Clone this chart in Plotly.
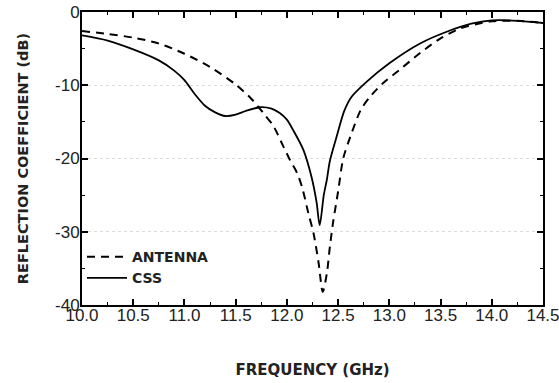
import plotly.graph_objects as go

# Dashed curve: ANTENNA
antenna_freq = [10.0, 10.25, 10.5, 10.75, 11.0, 11.25, 11.5, 11.65, 11.77, 11.87, 11.95,
                12.03, 12.1, 12.15, 12.21, 12.26, 12.31, 12.35, 12.39, 12.42, 12.45,
                12.5, 12.55, 12.62, 12.72, 12.81, 12.94, 13.1, 13.3, 13.5, 13.7,
                13.9, 14.0, 14.25, 14.5]
antenna_db = [-2.6, -3.0, -3.5, -4.3, -5.7, -7.5, -9.9, -11.8, -13.8, -15.6, -17.9,
              -20.2, -22.0, -24.0, -27.5, -30.2, -34.3, -38.2, -35.7, -32.0, -28.8,
              -24.5, -20.0, -17.0, -13.4, -11.6, -9.7, -7.9, -5.6, -3.6, -2.2,
              -1.5, -1.25, -1.2, -1.5]

# Solid curve: CSS
css_freq = [10.0, 10.25, 10.5, 10.75, 10.9, 11.0, 11.1, 11.2, 11.3, 11.4, 11.5, 11.6,
            11.74, 11.85, 11.93, 12.0, 12.06, 12.16, 12.24, 12.29, 12.32, 12.36,
            12.39, 12.42, 12.49, 12.56, 12.63, 12.78, 13.0, 13.3, 13.56, 13.8,
            14.0, 14.25, 14.5]
css_db = [-3.2, -3.9, -5.1, -6.6, -8.0, -9.3, -11.2, -12.8, -13.7, -14.2, -14.0, -13.5,
          -13.0, -13.2, -13.8, -14.7, -16.1, -18.8, -22.5, -26.0, -29.1, -25.0,
          -22.9, -20.3, -16.8, -13.5, -11.6, -9.5, -7.0, -4.3, -2.7, -1.6,
          -1.15, -1.2, -1.5]

x_ticks = [10.0, 10.5, 11.0, 11.5, 12.0, 12.5, 13.0, 13.5, 14.0, 14.5]
x_ticklabels = ["10.0", "10.5", "11.0", "11.5", "12.0", "12.5", "13.0", "13.5", "14.0", "14.5"]
y_ticks = [0, -10, -20, -30, -40]
y_ticklabels = ["0", "-10", "-20", "-30", "-40"]

fig = go.Figure()
fig.add_trace(go.Scatter(x=antenna_freq, y=antenna_db, mode="lines", name="ANTENNA",
                         line=dict(color="black", width=2, dash="8px,6px",
                                   shape="spline", smoothing=0.8)))
fig.add_trace(go.Scatter(x=css_freq, y=css_db, mode="lines", name="CSS",
                         line=dict(color="black", width=1.8, shape="spline", smoothing=0.8)))

tickfont = dict(family="Liberation Sans, Arial, sans-serif", size=17, color="#222")
xtitlefont = dict(family="DejaVu Sans, sans-serif", size=15, color="#222", weight="bold")
ytitlefont = dict(family="DejaVu Sans, sans-serif", size=14.5, color="#222", weight="bold")

fig.update_layout(
    width=559, height=383,
    margin=dict(l=82, r=16, t=12, b=78),
    paper_bgcolor="white", plot_bgcolor="white",
    showlegend=True,
    legend=dict(x=0.0, y=0.218, xanchor="left", yanchor="top",
                bgcolor="rgba(0,0,0,0)", font=dict(family="DejaVu Sans, sans-serif",
                                                   size=14, color="#222", weight="bold"),
                tracegroupgap=0, itemwidth=40),
    xaxis=dict(range=[10.0, 14.5], tickvals=x_ticks, ticktext=x_ticklabels,
               ticks="inside", ticklen=6, tickwidth=1.5, tickcolor="black",
               minor=dict(dtick=0.25, ticks="inside", ticklen=3, tickcolor="black", tickwidth=1.2),
               showline=True, linecolor="black", linewidth=2, mirror="allticks",
               showgrid=False, zeroline=False, tickfont=tickfont, automargin=False,
               ticklabelstandoff=-6, ticklabeloverflow="allow",
               title=dict(text="FREQUENCY (GHz)", font=xtitlefont, standoff=40)),
    yaxis=dict(range=[-40, 0], tickvals=y_ticks, ticktext=y_ticklabels,
               ticks="inside", ticklen=6, tickwidth=1.5, tickcolor="black",
               minor=dict(dtick=5, ticks="inside", ticklen=3, tickcolor="black", tickwidth=1.2),
               showline=True, linecolor="black", linewidth=2, mirror="allticks",
               showgrid=True, gridcolor="#dcdcdc", griddash="dot", gridwidth=1,
               zeroline=False, tickfont=tickfont, automargin=False,
               ticklabelstandoff=-3, ticklabeloverflow="allow",
               title=dict(text="REFLECTION COEFFICIENT (dB)", font=ytitlefont, standoff=23)),
)

# remove the page's default 8px body margin so the 559x383 figure fills the window exactly
fig.write_html("out.html",
               config={"displayModeBar": False},
               post_script="document.body.style.margin='0';document.body.style.padding='0';")
